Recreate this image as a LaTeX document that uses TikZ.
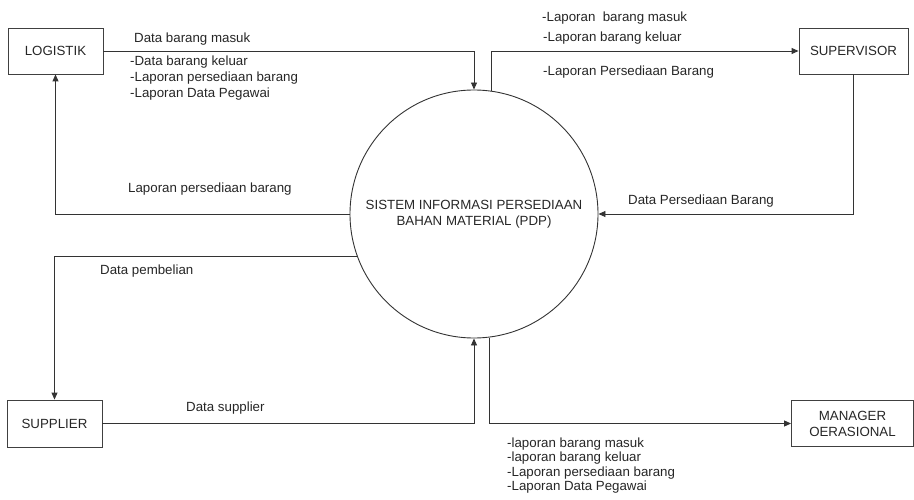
\documentclass[tikz,border=0pt]{standalone}
\usepackage{fontspec}
\setmainfont{Liberation Sans}
\usetikzlibrary{arrows.meta}
\begin{document}
\begin{tikzpicture}[x=1pt,y=-1pt,
  every node/.style={font=\fontsize{13.3}{16}\selectfont, text=black!85},
  entity/.style={draw=black!75, line width=0.9pt, rectangle, minimum height=46pt, inner sep=2pt, align=center},
  process/.style={draw=black!80, line width=0.9pt, circle, minimum size=248pt, inner sep=0pt, align=center},
  flow/.style={draw=black!80, line width=0.9pt, -{Triangle[length=7pt,width=6pt]}},
  lbl/.style={anchor=base west, inner sep=0pt}]
\useasboundingbox (0,0) rectangle (914,500);

% external entities and the central process
\node[entity, minimum width=95pt] (log) at (55.5,51) {LOGISTIK};
\node[entity, minimum width=109pt] (sup) at (853.5,51) {SUPERVISOR};
\node[entity, minimum width=95pt, minimum height=47pt] (spl) at (54.5,423.5) {SUPPLIER};
\node[entity, minimum width=122pt] (mgr) at (852.5,423.5) {MANAGER\\OERASIONAL};
\node[process] (p) at (474,214) {SISTEM INFORMASI PERSEDIAAN\\BAHAN MATERIAL (PDP)};

% data flows
\draw[flow] (log.east) -| (p.north);
\draw[flow] (p.82.6) |- (sup.west);
\draw[flow] (sup.south) |- (p.east);
\draw[flow] (p.west) -| (log.south);
\draw[flow] (p.200.8) -| (spl.north);
\draw[flow] (spl.east) -| (p.south);
\draw[flow] (p.277.4) |- (mgr.west);

% flow labels
\node[lbl] (t1) at (134,43) {Data barang masuk};
\node[lbl] (t2a) at (130,66) {-Data barang keluar};
\node[lbl] (t2b) at (130,82) {-Laporan persediaan barang};
\node[lbl] (t2c) at (130,98) {-Laporan Data Pegawai};
\node[lbl] (t3) at (542,22) {-Laporan\ \ barang masuk};
\node[lbl] (t4) at (543,42) {-Laporan barang keluar};
\node[lbl] (t5) at (543,76) {-Laporan Persediaan Barang};
\node[lbl] (t6) at (128,193) {Laporan persediaan barang};
\node[lbl] (t7) at (628,205) {Data Persediaan Barang};
\node[lbl] (t8) at (100,275) {Data pembelian};
\node[lbl] (t9) at (186,411) {Data supplier};
\node[lbl] (t10a) at (507,447) {-laporan barang masuk};
\node[lbl] (t10b) at (507,461.5) {-laporan barang keluar};
\node[lbl] (t10c) at (507,476) {-Laporan persediaan barang};
\node[lbl] (t10d) at (507,490.5) {-Laporan Data Pegawai};
\end{tikzpicture}
\end{document}
